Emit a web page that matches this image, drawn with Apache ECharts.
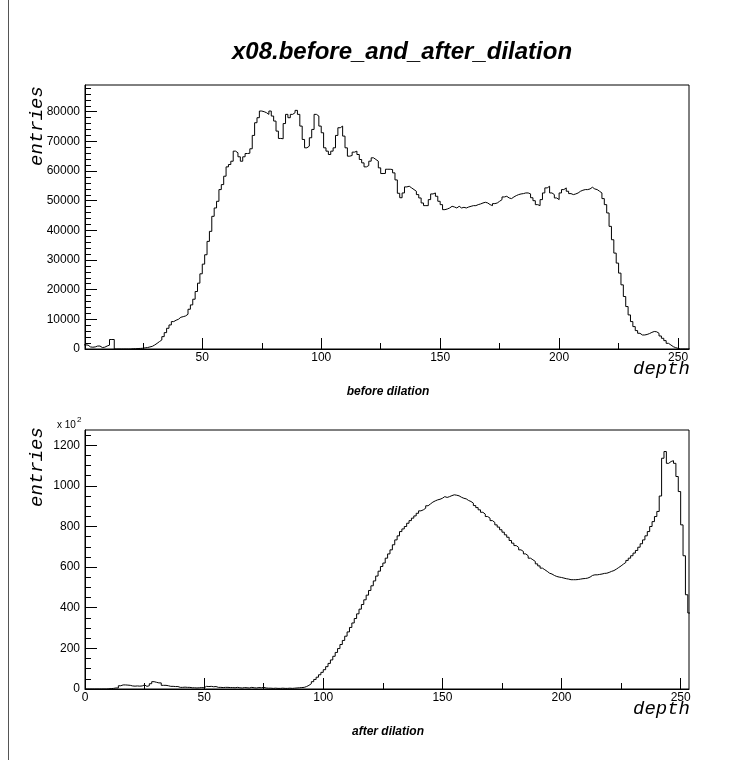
<!DOCTYPE html>
<html><head><meta charset="utf-8">
<script src="https://cdn.jsdelivr.net/npm/echarts@6/dist/echarts.min.js"></script>
<style>html,body{margin:0;padding:0;background:#fff}#c{width:754px;height:760px}</style>
</head><body><div id="c"></div>
<script>
// ---- data: "before dilation" (bin i covers [i, i+1]) ----
const beforeValues = [
  1400, 1300, 700, 600, 700, 1000, 1000, 500, 600, 1000,
  1300, 3200, 3200, 0, 0, 0, 0, 0, 0, 0,
  100, 100, 150, 200, 250, 400, 500, 700, 900, 1350,
  1900, 2500, 3040, 4170, 5520, 6980, 8110, 9240, 9700, 10030,
  10700, 10900, 11150, 11720, 13400, 14870, 16780, 19380, 22190, 25350,
  28610, 31770, 36280, 39660, 44730, 47540, 49790, 53740, 55430, 58250,
  61400, 62190, 63300, 66700, 66140, 64800, 63300, 64800, 65900, 66000,
  67500, 72000, 76280, 77970, 80220, 80000, 79660, 79100, 80220, 78530,
  76840, 73460, 70980, 70870, 76000, 79100, 77970, 79100, 79660, 80450,
  79100, 75150, 70640, 67820, 68390, 71210, 74020, 79100, 78530, 75150,
  72900, 67820, 66700, 65570, 66700, 67820, 72000, 74590, 75150, 71770,
  67820, 65010, 65240, 66370, 66700, 65570, 63880, 62750, 61400, 61850,
  63320, 64450, 63880, 63320, 61070, 59150, 59200, 60600, 60600, 60500,
  59380, 57000, 52500, 51000, 52610, 54650, 54870, 54310, 53740, 53180,
  52050, 50920, 49230, 48330, 48330, 50360, 52270, 52610, 51490, 49800,
  48670, 46980, 47200, 47540, 48110, 47880, 47540, 48110, 47540, 47770,
  47540, 47880, 48110, 48330, 48330, 48670, 48900, 49230, 49460, 49230,
  48670, 48330, 49010, 49230, 49800, 50360, 51260, 51490, 50920, 50700,
  51260, 51710, 52050, 52270, 52390, 52610, 52610, 52300, 51000, 50000,
  48670, 48330, 50360, 52610, 54310, 54870, 52610, 52050, 50920, 50360,
  52610, 53740, 54310, 53180, 52390, 52050, 52270, 52610, 53180, 53520,
  53740, 53740, 53960, 54530, 53960, 53740, 53180, 52610, 50700, 48670,
  45860, 41350, 36840, 32330, 28960, 25580, 21630, 17690, 14310, 11490,
  9240, 7550, 6200, 5300, 4730, 4730, 4900, 5200, 5600, 5900,
  5800, 5300, 4390, 3610, 2820, 1910, 1350, 790, 450, 225,
  0, 0, 0, 0, 0
];
// ---- data: "after dilation" (units of 10^2 entries) ----
const afterValues = [
  0, 0, 0, 0, 0, 0, 0, 0, 0, 1,
  2, 3, 5, 5, 16, 20, 20, 19, 18, 15,
  14, 15, 14, 15, 20, 13, 16, 26, 36, 33,
  30, 30, 18, 18, 16, 13, 13, 12, 12, 8,
  8, 9, 8, 8, 6, 6, 5, 6, 7, 6,
  13, 12, 13, 11, 12, 8, 8, 7, 8, 8,
  7, 7, 6, 8, 6, 5, 7, 6, 5, 8,
  6, 5, 7, 6, 8, 5, 4, 4, 3, 4,
  3, 3, 4, 3, 3, 4, 3, 4, 5, 6,
  7, 8, 12, 18, 26, 36, 47, 58, 70, 82,
  95, 110, 126, 143, 161, 180, 199, 219, 239, 260,
  281, 303, 325, 347, 370, 393, 416, 439, 462, 485,
  508, 532, 556, 580, 603, 620, 644, 665, 685, 710,
  734, 754, 775, 788, 800, 816, 829, 841, 852, 865,
  877, 882, 890, 902, 911, 920, 926, 931, 934, 939,
  947, 943, 947, 952, 956, 954, 951, 944, 939, 936,
  928, 923, 915, 903, 893, 882, 870, 861, 849, 841,
  829, 820, 808, 797, 784, 772, 759, 747, 731, 718,
  706, 697, 685, 677, 665, 656, 644, 636, 628, 616,
  606, 595, 587, 579, 570, 566, 559, 554, 551, 549,
  546, 543, 541, 538, 538, 538, 539, 541, 543, 544,
  546, 551, 559, 562, 562, 564, 566, 569, 570, 574,
  579, 583, 590, 598, 606, 615, 623, 633, 644, 656,
  669, 682, 698, 715, 734, 754, 775, 800, 824, 849,
  874, 950, 1136, 1169, 1111, 1120, 1124, 1111, 1046, 972,
  808, 656, 464, 374
];
// ---- ticks / labels ----
const beforeXTicks = [50, 100, 150, 200, 250];
const afterXTicks = [0, 50, 100, 150, 200, 250];
const xMinorTicks = [25, 75, 125, 175, 225];
const beforeYTicks = [0, 10000, 20000, 30000, 40000, 50000, 60000, 70000, 80000];
const beforeYMinor = [2000, 4000, 6000, 8000, 12000, 14000, 16000, 18000, 22000, 24000, 26000, 28000,
  32000, 34000, 36000, 38000, 42000, 44000, 46000, 48000, 52000, 54000, 56000, 58000,
  62000, 64000, 66000, 68000, 72000, 74000, 76000, 78000, 82000, 84000, 86000, 88000];
const afterYTicks = [0, 200, 400, 600, 800, 1000, 1200];
const afterYMinor = [50, 100, 150, 250, 300, 350, 450, 500, 550, 650, 700, 750,
  850, 900, 950, 1050, 1100, 1150, 1250];

const titleText = 'x08.before_and_after_dilation';
const beforeLabel = 'before dilation';
const afterLabel = 'after dilation';
const xName = 'depth';
const yName = 'entries';

const SANS = "'Liberation Sans', Arial, Helvetica, sans-serif";
const MONO = "'Liberation Mono', 'Courier New', monospace";

function histData(vals) {
  const d = vals.map((v, i) => [i, v]);
  d.push([vals.length, vals[vals.length - 1]]);
  return d;
}
function mainX(grid, min, max, ticks) {
  return { gridIndex: grid, type: 'value', min: min, max: max, position: 'bottom',
    axisLine: { onZero: false, lineStyle: { color: '#000', width: 1 } },
    axisTick: { inside: true, length: 11, customValues: ticks, lineStyle: { color: '#000' } },
    axisLabel: { customValues: ticks, margin: 3, fontSize: 12, color: '#000', fontFamily: SANS,
      formatter: v => String(v) },
    splitLine: { show: false } };
}
function minorX(grid, min, max) {
  return { gridIndex: grid, type: 'value', min: min, max: max, position: 'bottom',
    axisLine: { show: false, onZero: false },
    axisTick: { inside: true, length: 6, customValues: xMinorTicks, lineStyle: { color: '#000' } },
    axisLabel: { show: false }, splitLine: { show: false } };
}
function mainY(grid, max, ticks) {
  return { gridIndex: grid, type: 'value', min: 0, max: max, position: 'left',
    axisLine: { show: true, onZero: false, lineStyle: { color: '#000', width: 1 } },
    axisTick: { show: true, inside: true, length: 12, customValues: ticks, lineStyle: { color: '#000' } },
    axisLabel: { customValues: ticks, margin: 5, fontSize: 12, color: '#000', fontFamily: SANS,
      formatter: v => String(v) },
    splitLine: { show: false } };
}
function minorY(grid, max, ticks) {
  return { gridIndex: grid, type: 'value', min: 0, max: max, position: 'left',
    axisLine: { show: false, onZero: false },
    axisTick: { show: true, inside: true, length: 6, customValues: ticks, lineStyle: { color: '#000' } },
    axisLabel: { show: false }, splitLine: { show: false } };
}

const chart = echarts.init(document.getElementById('c'), null, { renderer: 'canvas' });
chart.setOption({
  animation: false,
  backgroundColor: '#fff',
  grid: [
    { left: 85, top: 85, width: 604, height: 264, show: true, borderColor: '#000', borderWidth: 1, backgroundColor: 'rgba(0,0,0,0)' },
    { left: 85, top: 430, width: 604, height: 259, show: true, borderColor: '#000', borderWidth: 1, backgroundColor: 'rgba(0,0,0,0)' }
  ],
  xAxis: [
    mainX(0, 0.7, 254.6, beforeXTicks), minorX(0, 0.7, 254.6),
    mainX(1, 0, 253.5, afterXTicks), minorX(1, 0, 253.5)
  ],
  yAxis: [
    mainY(0, 89000, beforeYTicks), minorY(0, 89000, beforeYMinor),
    mainY(1, 1275, afterYTicks), minorY(1, 1275, afterYMinor)
  ],
  series: [
    { type: 'line', xAxisIndex: 0, yAxisIndex: 0, data: histData(beforeValues), step: 'end',
      symbol: 'none', silent: true, lineStyle: { color: '#000', width: 1 } },
    { type: 'line', xAxisIndex: 2, yAxisIndex: 2, data: histData(afterValues), step: 'end',
      symbol: 'none', silent: true, lineStyle: { color: '#000', width: 1 } }
  ],
  graphic: [
    { type: 'line', shape: { x1: 8.5, y1: 0, x2: 8.5, y2: 760 }, style: { stroke: '#555', lineWidth: 1 } },
    { type: 'text', x: 402, y: 52, style: { text: titleText, font: "italic bold 24px " + SANS, fill: '#000', align: 'center', verticalAlign: 'middle' } },
    { type: 'text', x: 37, y: 126, rotation: Math.PI / 2, style: { text: yName, font: "italic 19px " + MONO, fill: '#000', align: 'center', verticalAlign: 'middle' } },
    { type: 'text', x: 37, y: 467, rotation: Math.PI / 2, style: { text: yName, font: "italic 19px " + MONO, fill: '#000', align: 'center', verticalAlign: 'middle' } },
    { type: 'text', x: 690, y: 369, style: { text: xName, font: "italic 19px " + MONO, fill: '#000', align: 'right', verticalAlign: 'middle' } },
    { type: 'text', x: 690, y: 709, style: { text: xName, font: "italic 19px " + MONO, fill: '#000', align: 'right', verticalAlign: 'middle' } },
    { type: 'text', x: 388, y: 392, style: { text: beforeLabel, font: "italic bold 12px " + SANS, fill: '#000', align: 'center', verticalAlign: 'middle' } },
    { type: 'text', x: 388, y: 732, style: { text: afterLabel, font: "italic bold 12px " + SANS, fill: '#000', align: 'center', verticalAlign: 'middle' } },
    { type: 'text', x: 57, y: 425, style: { text: 'x 10', font: "10px " + SANS, fill: '#000', align: 'left', verticalAlign: 'middle' } },
    { type: 'text', x: 77, y: 420, style: { text: '2', font: "8px " + SANS, fill: '#000', align: 'left', verticalAlign: 'middle' } }
  ]
});
</script>
</body></html>
